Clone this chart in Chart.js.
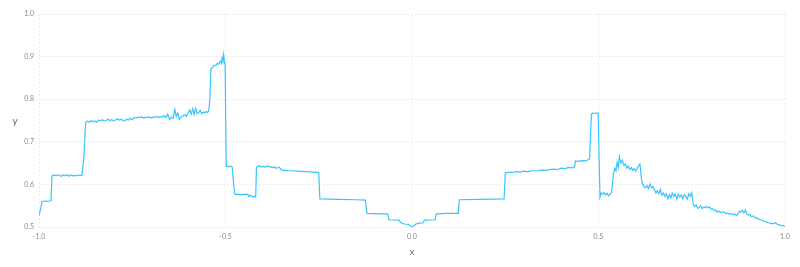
<!DOCTYPE html>
<html>
<head>
<meta charset="utf-8">
<script src="https://cdn.jsdelivr.net/npm/chart.js@4/dist/chart.umd.min.js"></script>
<style>
  html, body { margin: 0; padding: 0; background: #fff; }
  #wrap { width: 800px; height: 267px; }
</style>
</head>
<body>
<div id="wrap"><canvas id="chart"></canvas></div>
<script>
const xs = [
    -1.000, -0.995, -0.992, -0.985, -0.978, -0.972, -0.968, -0.965, -0.960, -0.955,
    -0.950, -0.945, -0.940, -0.935, -0.930, -0.925, -0.920, -0.915, -0.910, -0.905,
    -0.900, -0.895, -0.890, -0.885, -0.880, -0.875, -0.870, -0.865, -0.860, -0.855,
    -0.850, -0.845, -0.840, -0.835, -0.830, -0.825, -0.820, -0.815, -0.810, -0.805,
    -0.800, -0.795, -0.790, -0.785, -0.780, -0.775, -0.770, -0.765, -0.760, -0.755,
    -0.750, -0.745, -0.740, -0.735, -0.730, -0.725, -0.720, -0.715, -0.710, -0.705,
    -0.700, -0.695, -0.690, -0.685, -0.680, -0.675, -0.670, -0.665, -0.660, -0.655,
    -0.650, -0.645, -0.640, -0.636, -0.632, -0.628, -0.624, -0.620, -0.615, -0.610,
    -0.605, -0.600, -0.596, -0.592, -0.588, -0.584, -0.580, -0.576, -0.572, -0.568,
    -0.564, -0.560, -0.556, -0.552, -0.548, -0.545, -0.542, -0.539, -0.535, -0.530,
    -0.526, -0.522, -0.518, -0.514, -0.511, -0.509, -0.507, -0.505, -0.503, -0.501,
    -0.498, -0.494, -0.490, -0.486, -0.482, -0.478, -0.475, -0.470, -0.465, -0.460,
    -0.455, -0.450, -0.445, -0.440, -0.437, -0.434, -0.430, -0.426, -0.422, -0.419,
    -0.417, -0.413, -0.409, -0.405, -0.400, -0.396, -0.392, -0.388, -0.384, -0.380,
    -0.376, -0.372, -0.368, -0.364, -0.360, -0.356, -0.352, -0.348, -0.340, -0.330,
    -0.320, -0.310, -0.300, -0.290, -0.280, -0.270, -0.260, -0.250, -0.247, -0.200,
    -0.150, -0.125, -0.121, -0.090, -0.065, -0.062, -0.035, -0.030, -0.020, -0.010,
    -0.005, 0.000, 0.005, 0.010, 0.020, 0.030, 0.033, 0.062, 0.065, 0.095,
    0.124, 0.127, 0.180, 0.247, 0.250, 0.260, 0.270, 0.280, 0.290, 0.300,
    0.310, 0.320, 0.330, 0.340, 0.350, 0.360, 0.370, 0.380, 0.390, 0.400,
    0.410, 0.420, 0.430, 0.436, 0.438, 0.445, 0.455, 0.465, 0.472, 0.476,
    0.481, 0.485, 0.490, 0.495, 0.499, 0.504, 0.507, 0.511, 0.515, 0.519,
    0.523, 0.527, 0.531, 0.535, 0.540, 0.544, 0.547, 0.550, 0.553, 0.556,
    0.560, 0.564, 0.568, 0.572, 0.576, 0.580, 0.584, 0.588, 0.592, 0.596,
    0.600, 0.604, 0.608, 0.611, 0.615, 0.618, 0.622, 0.626, 0.630, 0.634,
    0.638, 0.642, 0.646, 0.650, 0.654, 0.658, 0.662, 0.666, 0.670, 0.674,
    0.678, 0.682, 0.686, 0.690, 0.694, 0.698, 0.702, 0.706, 0.710, 0.714,
    0.718, 0.722, 0.726, 0.730, 0.734, 0.738, 0.742, 0.746, 0.750, 0.754,
    0.758, 0.762, 0.766, 0.770, 0.774, 0.778, 0.782, 0.786, 0.790, 0.794,
    0.798, 0.802, 0.806, 0.810, 0.814, 0.818, 0.822, 0.826, 0.830, 0.834,
    0.838, 0.842, 0.846, 0.850, 0.855, 0.860, 0.865, 0.870, 0.874, 0.878,
    0.882, 0.886, 0.890, 0.894, 0.898, 0.902, 0.906, 0.910, 0.915, 0.920,
    0.925, 0.930, 0.935, 0.940, 0.945, 0.950, 0.955, 0.960, 0.965, 0.970,
    0.975, 0.980, 0.985, 0.990, 0.995, 1.000
];

const ys = [
    0.527, 0.545, 0.560, 0.561, 0.560, 0.561, 0.562, 0.620, 0.622, 0.620,
    0.623, 0.621, 0.619, 0.622, 0.620, 0.623, 0.619, 0.622, 0.620, 0.621,
    0.620, 0.622, 0.621, 0.621, 0.660, 0.745, 0.749, 0.746, 0.750, 0.747,
    0.749, 0.746, 0.751, 0.749, 0.752, 0.749, 0.750, 0.753, 0.750, 0.752,
    0.749, 0.751, 0.754, 0.751, 0.753, 0.750, 0.749, 0.753, 0.751, 0.755,
    0.752, 0.757, 0.756, 0.758, 0.757, 0.759, 0.756, 0.758, 0.757, 0.759,
    0.756, 0.758, 0.757, 0.760, 0.757, 0.759, 0.758, 0.761, 0.757, 0.765,
    0.752, 0.758, 0.755, 0.776, 0.760, 0.768, 0.752, 0.757, 0.760, 0.764,
    0.760, 0.768, 0.775, 0.765, 0.778, 0.764, 0.779, 0.766, 0.768, 0.774,
    0.766, 0.770, 0.768, 0.771, 0.769, 0.772, 0.800, 0.872, 0.874, 0.880,
    0.879, 0.884, 0.882, 0.889, 0.884, 0.897, 0.890, 0.905, 0.889, 0.880,
    0.642, 0.643, 0.641, 0.643, 0.640, 0.600, 0.577, 0.576, 0.577, 0.575,
    0.577, 0.576, 0.577, 0.576, 0.571, 0.574, 0.573, 0.570, 0.572, 0.570,
    0.640, 0.643, 0.644, 0.641, 0.643, 0.640, 0.643, 0.641, 0.643, 0.640,
    0.641, 0.639, 0.641, 0.638, 0.639, 0.641, 0.636, 0.633, 0.633, 0.632,
    0.632, 0.631, 0.631, 0.630, 0.630, 0.629, 0.629, 0.628, 0.566, 0.565,
    0.564, 0.563, 0.532, 0.531, 0.531, 0.517, 0.516, 0.510, 0.507, 0.506,
    0.503, 0.501, 0.503, 0.507, 0.509, 0.510, 0.516, 0.517, 0.531, 0.532,
    0.532, 0.564, 0.565, 0.566, 0.627, 0.628, 0.628, 0.630, 0.629, 0.631,
    0.630, 0.632, 0.632, 0.632, 0.634, 0.633, 0.635, 0.636, 0.635, 0.638,
    0.637, 0.640, 0.639, 0.641, 0.655, 0.654, 0.656, 0.655, 0.658, 0.660,
    0.765, 0.768, 0.766, 0.768, 0.767, 0.570, 0.580, 0.577, 0.581, 0.575,
    0.579, 0.573, 0.578, 0.580, 0.625, 0.638, 0.632, 0.652, 0.640, 0.665,
    0.650, 0.657, 0.645, 0.648, 0.638, 0.643, 0.635, 0.640, 0.633, 0.637,
    0.631, 0.638, 0.645, 0.648, 0.615, 0.600, 0.595, 0.592, 0.597, 0.590,
    0.601, 0.592, 0.595, 0.588, 0.580, 0.585, 0.578, 0.588, 0.575, 0.580,
    0.572, 0.578, 0.566, 0.576, 0.568, 0.580, 0.572, 0.578, 0.565, 0.577,
    0.570, 0.575, 0.566, 0.576, 0.572, 0.565, 0.578, 0.572, 0.580, 0.553,
    0.548, 0.552, 0.544, 0.546, 0.550, 0.543, 0.547, 0.545, 0.548, 0.545,
    0.547, 0.541, 0.543, 0.538, 0.540, 0.535, 0.537, 0.535, 0.533, 0.536,
    0.534, 0.531, 0.533, 0.530, 0.532, 0.529, 0.530, 0.527, 0.531, 0.537,
    0.535, 0.539, 0.533, 0.540, 0.530, 0.528, 0.529, 0.524, 0.526, 0.522,
    0.521, 0.518, 0.517, 0.515, 0.513, 0.512, 0.510, 0.509, 0.508, 0.508,
    0.510, 0.506, 0.505, 0.503, 0.503, 0.502
];

const xTicks = [-1.0, -0.5, 0.0, 0.5, 1.0];
const yTicks = [0.5, 0.6, 0.7, 0.8, 0.9, 1.0];

const tickFont = {family: 'Lato', size: 7};
const titleFont = {family: 'Lato', size: 9};
const gridStyle = {color: '#ececec', lineWidth: 1, tickLength: 0};

// the y title sits upright left of the axis, so it is drawn here instead of the rotated axis title
const uprightYTitle = {
    id: 'uprightYTitle',
    afterDraw(chart) {
        const ctx = chart.ctx;
        const area = chart.chartArea;
        ctx.save();
        ctx.font = '10px Lato';
        ctx.fillStyle = '#666';
        ctx.textAlign = 'center';
        ctx.textBaseline = 'middle';
        ctx.fillText('y', 15, (area.top + area.bottom) / 2);
        ctx.restore();
    }
};

new Chart(document.getElementById('chart'), {
    type: 'line',
    data: {
        datasets: [{
            label: 'y',
            data: xs.map((x, i) => ({x: x, y: ys[i]})),
            borderColor: 'rgb(56,197,255)',
            borderWidth: 1.2,
            pointRadius: 0,
            tension: 0,
            fill: false
        }]
    },
    options: {
        responsive: true,
        maintainAspectRatio: false,
        animation: false,
        layout: {padding: {top: 14, right: 15, left: 0, bottom: 0}},
        plugins: {legend: {display: false}, tooltip: {enabled: false}},
        scales: {
            x: {
                type: 'linear',
                min: xTicks[0],
                max: xTicks[xTicks.length - 1],
                afterBuildTicks: axis => { axis.ticks = xTicks.map(v => ({value: v})); },
                afterFit: axis => { axis.height = 40; },
                grid: gridStyle,
                border: {display: false, dash: [2, 2]},
                ticks: {
                    font: tickFont,
                    color: '#8a8a8a',
                    padding: 6,
                    maxRotation: 0,
                    callback: v => v.toFixed(1)
                },
                title: {display: true, text: 'x', font: titleFont, color: '#666', padding: {top: 4, bottom: 10}}
            },
            y: {
                min: yTicks[0],
                max: yTicks[yTicks.length - 1],
                afterBuildTicks: axis => { axis.ticks = yTicks.map(v => ({value: v})); },
                afterFit: axis => { axis.width = 39; },
                grid: gridStyle,
                border: {display: false, dash: [2, 2]},
                ticks: {
                    font: tickFont,
                    color: '#8a8a8a',
                    padding: 5,
                    callback: v => v.toFixed(1)
                },
                title: {display: false}
            }
        }
    },
    plugins: [uprightYTitle]
});
</script>
</body>
</html>
